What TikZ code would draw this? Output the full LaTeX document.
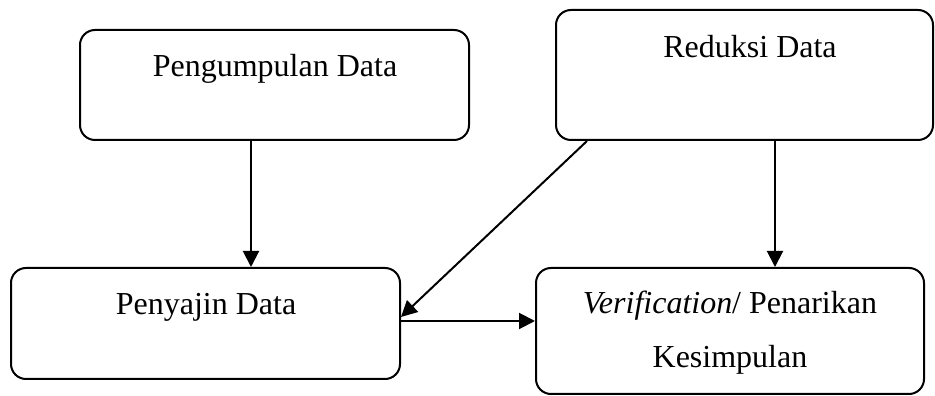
\documentclass[tikz,border=0pt]{standalone}
\usepackage{fontspec}
\setmainfont{Liberation Serif}
\usetikzlibrary{arrows.meta}
\begin{document}
\begin{tikzpicture}[x=1pt,y=1pt,
  box/.style={draw, line width=2pt, rounded corners=15pt, inner sep=0pt},
  lbl/.style={anchor=base, inner sep=0pt, font=\fontsize{32}{38}\selectfont},
  arr/.style={line width=2pt, -{Triangle[length=16pt,width=16pt]}}]
\useasboundingbox (0,0) rectangle (935,396);
\node[box, minimum width=389pt, minimum height=110pt] (b1) at (274.5,311) {};
\node[box, minimum width=377pt, minimum height=130pt] (b2) at (744.5,321) {};
\node[box, minimum width=389pt, minimum height=111pt] (b3) at (205.5,72.5) {};
\node[box, minimum width=388pt, minimum height=126pt] (b4) at (730,65) {};
\node[lbl] (t1) at (275,319) {Pengumpulan Data};
\node[lbl] (t2) at (750,338) {Reduksi Data};
\node[lbl] (t3) at (206,81) {Penyajin Data};
\node[lbl] (t4) at (730,82) {\textit{Verification}/ Penarikan};
\node[lbl] (t5) at (730,28) {Kesimpulan};
\coordinate (c1) at (251,0);
\coordinate (c2) at (775,0);
\coordinate (d1) at (587,0);
\coordinate (h1) at (0,75);
\coordinate (d2) at (0,79);
\draw[arr] (b1.south -| c1) -- (b3.north -| c1);
\draw[arr] (b2.south -| c2) -- (b4.north -| c2);
\draw[arr] (b2.south -| d1) -- (b3.east |- d2);
\draw[arr] (b3.east |- h1) -- (b4.west |- h1);
\end{tikzpicture}
\end{document}
